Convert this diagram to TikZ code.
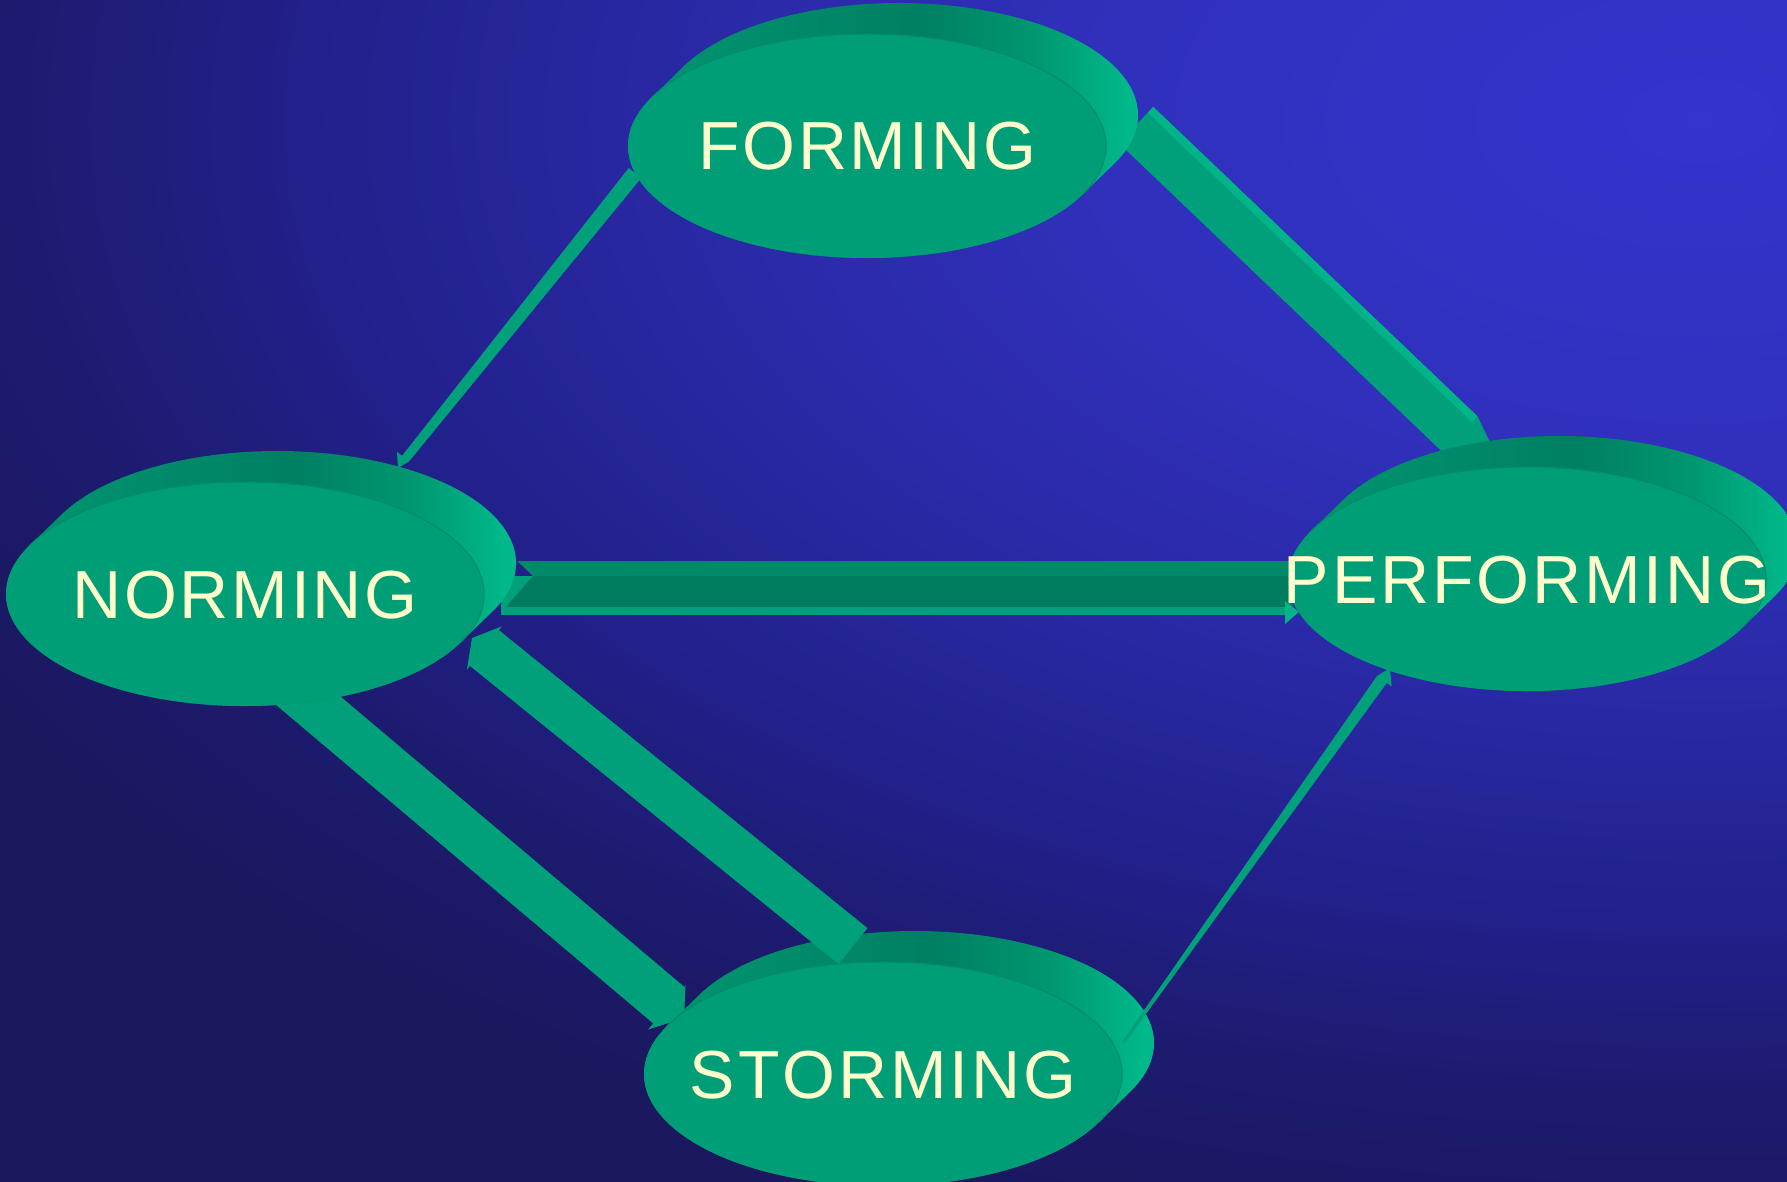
\documentclass[tikz,border=0pt]{standalone}
\usepackage{fontspec}
\setmainfont{Liberation Sans}
\usetikzlibrary{calc}

\definecolor{bgA}{HTML}{3434CE}
\definecolor{bgB}{HTML}{3030BC}
\definecolor{bgC}{HTML}{2A29A6}
\definecolor{bgD}{HTML}{22208A}
\definecolor{bgE}{HTML}{1D1B6E}
\definecolor{bgF}{HTML}{1A185E}
\definecolor{discfront}{HTML}{009E77}
\definecolor{sideDark}{HTML}{007F62}
\definecolor{sideMid}{HTML}{00976F}
\definecolor{sideMidB}{HTML}{008C6B}
\definecolor{sideLight}{HTML}{00B88A}
\definecolor{arrowface}{HTML}{00A07A}
\definecolor{arrowlight}{HTML}{00B388}
\definecolor{arrowdark}{HTML}{008A69}
\definecolor{arrowdeep}{HTML}{007C5F}
\definecolor{labeltext}{HTML}{FFFFCC}

\pgfdeclareradialshading{bgshade}{\pgfpointorigin}{color(0bp)=(bgA); color(7.5bp)=(bgB); color(12.5bp)=(bgC); color(17.5bp)=(bgD); color(21.25bp)=(bgE); color(25bp)=(bgF); color(50bp)=(bgF)}
\pgfdeclarehorizontalshading{discside}{100bp}{color(0bp)=(sideMid); color(25bp)=(sideMid); color(40bp)=(sideMidB); color(53bp)=(sideDark); color(63bp)=(sideMid); color(71bp)=(sideLight); color(100bp)=(sideLight)}

% letter tracking
\newcommand\tk{\kern2.8pt}

% 3D disc: side silhouette + front face
\newcommand\disc[1]{%
  \shade[shading=discside] ($(#1)+(-216.4,-47.5)$) -- ++(32,-31)
    arc[start angle=205.1, end angle=385.1, x radius=239pt, y radius=112pt]
    -- ++(-32,31)
    arc[start angle=25.1, end angle=205.1, x radius=239pt, y radius=112pt] -- cycle;
  \fill[discfront] (#1) ellipse [x radius=239pt, y radius=112pt];
  \draw[discedge] ($(#1)+(-216.4,-47.5)$) arc[start angle=205.1, end angle=385.1, x radius=239pt, y radius=112pt];
}
% block arrow: from, to, tail half width, end half width, barb (+90 side), barb (-90 side), head length, style
\newcommand\barrow[8]{%
  \coordinate (hb) at ($(#2)!#7!(#1)$);
  \fill[#8] ($(#1)!#3!90:(#2)$) -- ($(hb)!#4!90:(#2)$) -- ($(hb)!#5!90:(#2)$) -- (#2)
     -- ($(hb)!#6!-90:(#2)$) -- ($(hb)!#4!-90:(#2)$) -- ($(#1)!#3!-90:(#2)$) -- cycle;
}
% side strip on the -90 side: from, to, outer, inner, head length, style
\newcommand\sidestrip[6]{%
  \coordinate (hb) at ($(#2)!#5!(#1)$);
  \fill[#6] ($(#1)!#3!-90:(#2)$) -- ($(hb)!#3!-90:(#2)$) -- ($(hb)!#4!-90:(#2)$) -- ($(#1)!#4!-90:(#2)$) -- cycle;
}

\begin{document}
\begin{tikzpicture}[x=1pt,y=1pt,yscale=-1,
  lbl/.style={text=labeltext, font=\fontsize{68}{80}\selectfont, inner sep=0pt, anchor=base},
  discedge/.style={draw=sideDark!55!discfront, line width=1.2pt},
  face/.style={fill=arrowface},
  lightface/.style={fill=arrowlight}]

\useasboundingbox (0,0) rectangle (1787,1182);
\fill[bgF] (0,0) rectangle (1787,1182);
\begin{scope}
  \clip (0,0) rectangle (1787,1182);
  \shade[shading=bgshade] (1700,120) ellipse [x radius=2000pt, y radius=1150pt];
\end{scope}

% disc centres
\coordinate (F) at (867,146);
\coordinate (N) at (245,594);
\coordinate (P) at (1527,579);
\coordinate (S) at (883,1074);

% connector end points
\coordinate (A0) at ($(F)+(-232,27)$);
\coordinate (A1) at ($(N)+(153,-126)$);
\coordinate (B0) at ($(F)+(269,-21)$);
\coordinate (B1) at ($(P)+(-19,-99)$);
\coordinate (C0) at ($(N)+(256,1)$);
\coordinate (C1) at ($(P)+(-234,16)$);
\coordinate (D0) at ($(N)+(34,82)$);
\coordinate (D1) at ($(S)+(-199,-56)$);
\coordinate (E0) at ($(S)+(-30,-128)$);
\coordinate (E1) at ($(N)+(227,44)$);
\coordinate (G0) at ($(S)+(240,-31)$);
\coordinate (G1) at ($(P)+(-137,89)$);

% FORMING -> NORMING (thin)
\barrow{A0}{A1}{8pt}{4.5pt}{11pt}{4.5pt}{12pt}{face}
% FORMING -> PERFORMING
\barrow{B0}{B1}{25pt}{25pt}{34pt}{25pt}{66pt}{face}
\sidestrip{B0}{B1}{25pt}{17pt}{66pt}{lightface}
% NORMING -> PERFORMING (horizontal block)
\fill[arrowdark] ($(C0)+(16,-34)$) -- ($(C1)+(0,-34)$) -- ($(C1)+(0,-19)$) -- ($(C0)+(32,-19)$) -- cycle;
\fill[arrowdeep] ($(C0)+(0,-19)$) -- ($(C1)+(0,-19)$) -- ($(C1)+(0,20)$) -- ($(C0)+(0,20)$) -- cycle;
\fill[arrowface] ($(C0)+(0,-19)$) -- ($(C0)+(32,-19)$) -- ($(C0)+(0,17)$) -- cycle;
\fill[arrowface] ($(C0)+(0,12)$) -- ($(C1)+(0,12)$) -- ($(C1)+(0,20)$) -- ($(C0)+(0,20)$) -- cycle;
\fill[arrowlight] ($(C1)+(-8,6)$) -- ($(C1)+(6,17)$) -- ($(C1)+(-8,29)$) -- cycle;
% NORMING -> STORMING
\barrow{D0}{D1}{24pt}{24pt}{32pt}{26pt}{20pt}{face}

\disc{S}
% STORMING -> NORMING
\barrow{E0}{E1}{23pt}{23pt}{28pt}{28pt}{16pt}{face}
% STORMING -> PERFORMING (thin)
\barrow{G0}{G1}{1.5pt}{6pt}{12pt}{6pt}{14pt}{face}

\disc{F}
\disc{N}
\disc{P}

\node[lbl] (Ft) at ($(F)+(0,24)$) {F\tk O\tk R\tk M\tk I\tk N\tk G};
\node[lbl] (Nt) at ($(N)+(0,24)$) {N\tk O\tk R\tk M\tk I\tk N\tk G};
\node[lbl] (Pt) at ($(P)+(0,24)$) {P\tk E\tk R\tk F\tk O\tk R\tk M\tk I\tk N\tk G};
\node[lbl] (St) at ($(S)+(0,24)$) {S\tk T\tk O\tk R\tk M\tk I\tk N\tk G};
\end{tikzpicture}
\end{document}
